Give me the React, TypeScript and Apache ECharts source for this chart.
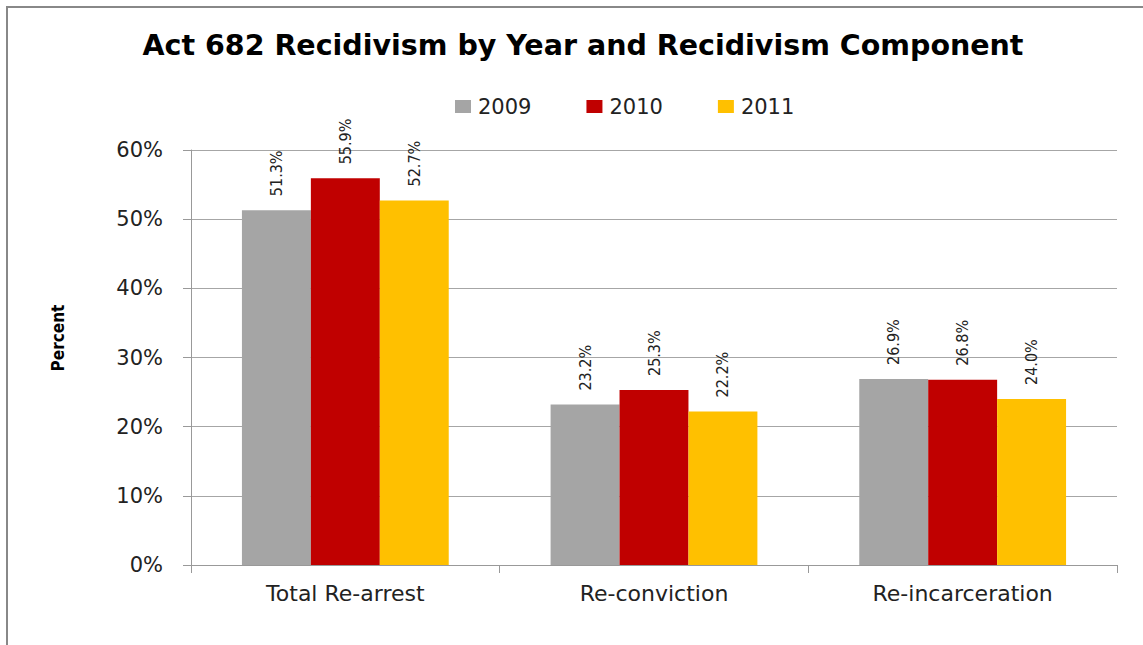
import React, { useEffect, useRef } from "react";
import * as echarts from "echarts";

const categories = ["Total Re-arrest", "Re-conviction", "Re-incarceration"];
const years = ["2009", "2010", "2011"];
const values2009 = [51.3, 23.2, 26.9];
const values2010 = [55.9, 25.3, 26.8];
const values2011 = [52.7, 22.2, 24.0];
const colors = ["#A5A5A5", "#C00000", "#FFC000"];

export default function App() {
  const ref = useRef<HTMLDivElement>(null);
  useEffect(() => {
    if (!ref.current) return;
    const chart = echarts.init(ref.current, undefined, { renderer: "svg" });
    const seriesData = [values2009, values2010, values2011];
    chart.setOption({
      animation: false,
      backgroundColor: "#ffffff",
      title: {
        text: "Act 682 Recidivism by Year and Recidivism Component",
        left: 578,
        textAlign: "center",
        top: 26,
        textStyle: { fontFamily: "DejaVu Sans", fontWeight: "bold", fontSize: 28.5, color: "#000" },
      },
      graphic: [
        {
          type: "rect",
          shape: { x: 7, y: 7, width: 1150, height: 660 },
          style: { fill: "none", stroke: "#888", lineWidth: 2 },
          silent: true,
        },
        {
          type: "text",
          x: 58,
          y: 338,
          rotation: Math.PI / 2,
          style: {
            text: "Percent",
            fontFamily: "DejaVu Sans Condensed",
            fontWeight: "bold",
            fontSize: 17,
            fill: "#000",
            align: "center",
            verticalAlign: "middle",
          },
        },
      ],
      legend: {
        data: years,
        left: 450,
        top: 91,
        itemWidth: 16,
        itemHeight: 13,
        itemGap: 55,
        icon: "rect",
        textStyle: { fontFamily: "DejaVu Sans", fontSize: 21, color: "#222", padding: [0, 0, 0, 2] },
      },
      grid: { left: 191, right: 26, top: 150, bottom: 80, containLabel: false },
      xAxis: {
        type: "category",
        data: categories,
        axisLine: { lineStyle: { color: "#999", width: 1 } },
        axisTick: { show: true, length: 8, lineStyle: { color: "#999" } },
        axisLabel: { fontFamily: "DejaVu Sans", fontSize: 22, color: "#222", margin: 17 },
      },
      yAxis: {
        type: "value",
        min: 0,
        max: 60,
        interval: 10,
        axisLine: { show: true, lineStyle: { color: "#999", width: 1 } },
        axisTick: { show: true, length: 8, lineStyle: { color: "#999" } },
        axisLabel: { formatter: "{value}%", fontFamily: "DejaVu Sans", fontSize: 21, color: "#222", margin: 28 },
        splitLine: { lineStyle: { color: "#a6a6a6", width: 1 } },
      },
      series: years.map((y, i) => ({
        name: y,
        type: "bar",
        data: seriesData[i],
        barGap: "0%",
        barCategoryGap: "33%",
        itemStyle: { color: colors[i] },
        label: {
          show: true,
          position: "top",
          rotate: 90,
          align: "left",
          verticalAlign: "middle",
          distance: 14,
          formatter: (p: any) => p.value.toFixed(1) + "%",
          fontFamily: "DejaVu Sans Condensed",
          fontSize: 16,
          color: "#222",
        },
      })),
    });
    return () => chart.dispose();
  }, []);
  return <div ref={ref} style={{ position: "fixed", left: 0, top: 0, width: 1143, height: 645 }} />;
}
